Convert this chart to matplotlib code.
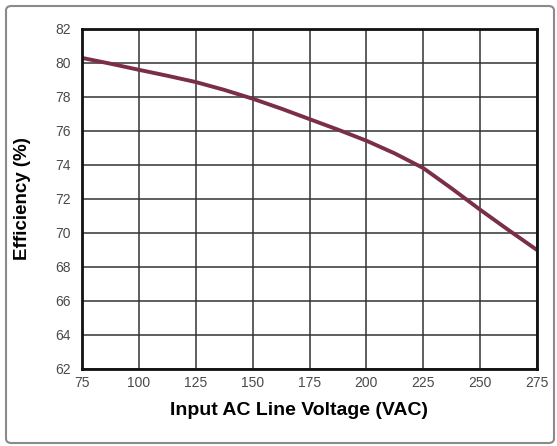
import matplotlib.pyplot as plt
from matplotlib.patches import FancyBboxPatch

voltage = [75, 87.5, 100, 112.5, 125, 137.5, 150, 162.5, 175,
           187.5, 200, 212.5, 225, 237.5, 250, 262.5, 275]
efficiency = [80.3, 79.96, 79.6, 79.25, 78.88, 78.42, 77.9, 77.32, 76.7,
              76.08, 75.43, 74.68, 73.82, 72.62, 71.37, 70.17, 69.0]
xticks = [75, 100, 125, 150, 175, 200, 225, 250, 275]
yticks = [62, 64, 66, 68, 70, 72, 74, 76, 78, 80, 82]

plt.rcParams['font.family'] = ['Liberation Sans', 'DejaVu Sans']

fig = plt.figure(figsize=(5.57, 4.46), dpi=100)
ax = fig.add_axes([82 / 557, 1 - 369 / 446, 455 / 557, 340 / 446])

# outer rounded frame
frame = FancyBboxPatch((6 / 557, 3 / 446), 548 / 557, 437 / 446,
                       boxstyle="round,pad=0,rounding_size=0.01",
                       transform=fig.transFigure, fill=False,
                       edgecolor='#8a8a8a', linewidth=1.5)
fig.patches.append(frame)

ax.plot(voltage, efficiency, color='#7b2f47', linewidth=2.8,
        solid_joinstyle='round', solid_capstyle='butt')

ax.set_xlim(75, 275)
ax.set_ylim(62, 82)
ax.set_xticks(xticks)
ax.set_yticks(yticks)
ax.grid(True, color='#333333', linewidth=1.1)
ax.set_axisbelow(True)
for s in ax.spines.values():
    s.set_linewidth(2)
    s.set_color('#111111')
ax.tick_params(length=0, labelsize=10, labelcolor='#4a4a4a')
ax.tick_params(axis='y', pad=8)
ax.tick_params(axis='x', pad=5)

ax.set_xlabel('Input AC Line Voltage (VAC)', fontsize=14, fontweight='bold')
ax.set_ylabel('Efficiency (%)', fontsize=13.5, fontweight='bold')
ax.xaxis.set_label_coords(0.477, -0.098)
ax.yaxis.set_label_coords(-0.112, 0.5)

fig.savefig('out.png', dpi=100)
